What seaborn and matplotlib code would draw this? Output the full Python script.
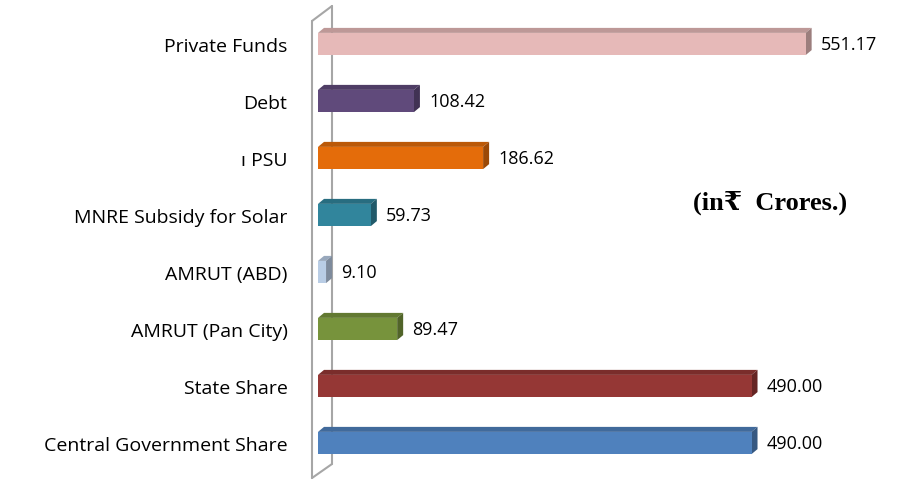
import matplotlib
matplotlib.use("Agg")
import matplotlib.pyplot as plt
from matplotlib.patches import Polygon
from matplotlib.lines import Line2D
from matplotlib.colors import to_rgb
import pandas as pd
import seaborn as sns

# data (top to bottom)
categories = ["Private Funds", "Debt", "ı PSU", "MNRE Subsidy for Solar",
              "AMRUT (ABD)", "AMRUT (Pan City)", "State Share",
              "Central Government Share"]
amounts = [551.17, 108.42, 186.62, 59.73, 9.10, 89.47, 490.00, 490.00]
value_labels = ["551.17", "108.42", "186.62", "59.73", "9.10", "89.47",
                "490.00", "490.00"]
bar_colors = ["#E6B9B8", "#604A7B", "#E46C0A", "#31859C",
              "#B9CDE5", "#77933C", "#953735", "#4F81BD"]

df = pd.DataFrame({"category": categories, "amount": amounts})

sns.set_theme(style="white")
plt.rcParams["font.family"] = ["Open Sans", "DejaVu Sans"]
plt.rcParams["text.color"] = "black"

W, H = 909, 481
fig = plt.figure(figsize=(W / 100, H / 100), dpi=100)
ax = fig.add_axes([318 / W, 1 - 472.5 / H, (W - 318) / W, 456 / H])
ax.patch.set_visible(False)
ax.set_zorder(1)

sns.barplot(data=df, y="category", x="amount", hue="category",
            palette=bar_colors, order=categories, hue_order=categories,
            orient="h", width=0.39, legend=False, ax=ax, saturation=1,
            linewidth=0, edgecolor="none")
ax.set_xlim(0, 668)
ax.set_ylim(7.5, -0.5)

# pseudo 3D depth on each bar
dx_px, dy_px = 6, 5
xu = 668 / (W - 318)
yu = 8 / 456
dx, dy = dx_px * xu, dy_px * yu
for p, c in zip(ax.patches, bar_colors):
    x0, y0 = p.get_x(), p.get_y()
    w, h = p.get_width(), p.get_height()
    r, g, b = to_rgb(c)
    top_c = (r * 0.82, g * 0.82, b * 0.82)
    side_c = (r * 0.68, g * 0.68, b * 0.68)
    # y axis inverted: smaller y is top
    top = Polygon([(x0, y0), (x0 + w, y0), (x0 + w + dx, y0 - dy), (x0 + dx, y0 - dy)],
                  closed=True, facecolor=top_c, edgecolor="none", zorder=3)
    side = Polygon([(x0 + w, y0), (x0 + w + dx, y0 - dy), (x0 + w + dx, y0 + h - dy),
                    (x0 + w, y0 + h)], closed=True, facecolor=side_c,
                   edgecolor="none", zorder=3)
    ax.add_patch(top)
    ax.add_patch(side)
    p.set_zorder(4)

for cont, lab in zip(ax.containers, value_labels):
    ax.bar_label(cont, labels=[lab], padding=11, fontsize=13, color="black")

ax.set_xlabel("")
ax.set_ylabel("")
ax.set_xticks([])
ax.tick_params(axis="y", length=0, pad=22, labelsize=14, labelcolor="black")
for s in ax.spines.values():
    s.set_visible(False)

# side wall outline (behind the bars)
wall = "#A6A6A6"
for (x1, y1), (x2, y2) in [((312, 22), (312, 479)), ((332, 7), (332, 465)),
                           ((312, 22), (332, 7)), ((312, 479), (332, 465))]:
    fig.add_artist(Line2D([x1 / W, x2 / W], [1 - y1 / H, 1 - y2 / H],
                          color=wall, lw=1.5, zorder=0.5))

fig.text(770 / W, 1 - 203 / H, "(in₹  Crores.)", ha="center", va="center",
         fontsize=19, fontweight="bold", color="black",
         family=["Liberation Serif", "DejaVu Serif", "DejaVu Sans"])

fig.savefig("out.png", dpi=100)
